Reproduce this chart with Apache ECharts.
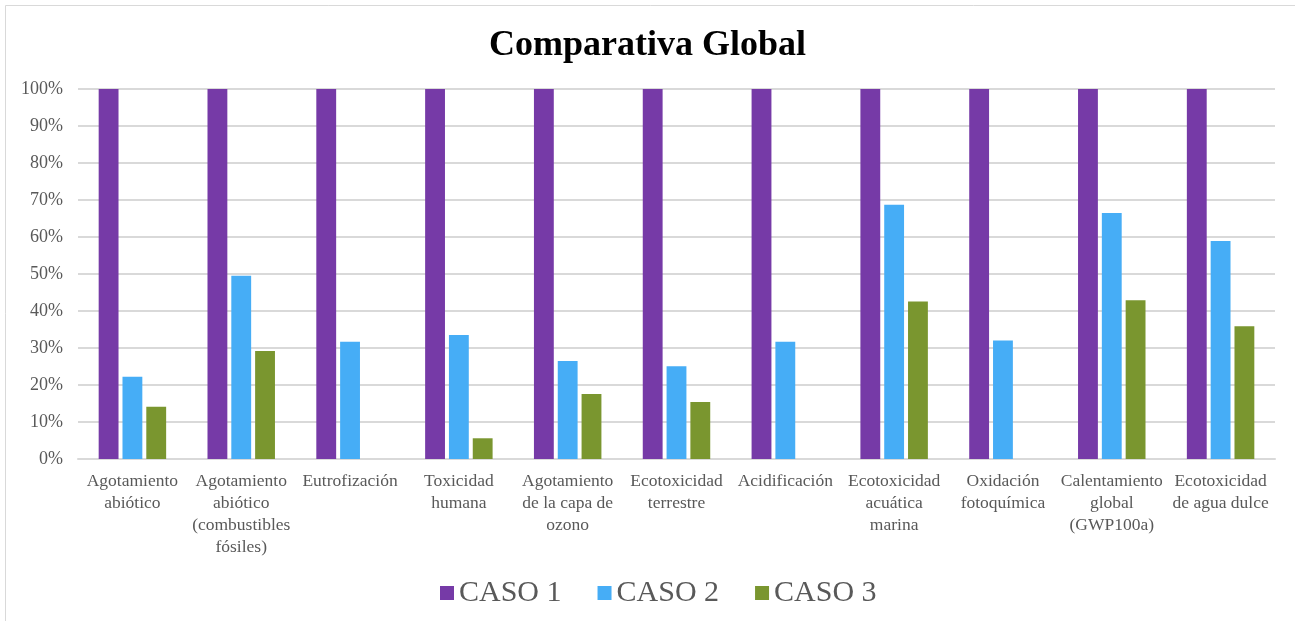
<!DOCTYPE html>
<html>
<head>
<meta charset="utf-8">
<script src="https://cdn.jsdelivr.net/npm/echarts@6/dist/echarts.min.js"></script>
<style>
	html, body { margin: 0; padding: 0; background: #fff; }
	#chart { width: 1295px; height: 621px; }
</style>
</head>
<body>
<div id="chart"></div>
<script>
// categorias del eje x
var categorias = [
	'Agotamiento\nabiótico',
	'Agotamiento\nabiótico\n(combustibles\nfósiles)',
	'Eutrofización',
	'Toxicidad\nhumana',
	'Agotamiento\nde la capa de\nozono',
	'Ecotoxicidad\nterrestre',
	'Acidificación',
	'Ecotoxicidad\nacuática\nmarina',
	'Oxidación\nfotoquímica',
	'Calentamiento\nglobal\n(GWP100a)',
	'Ecotoxicidad\nde agua dulce'
];
// valores en %
var caso1 = [100, 100, 100, 100, 100, 100, 100, 100, 100, 100, 100];
var caso2 = [22.2, 49.5, 31.7, 33.5, 26.5, 25.1, 31.7, 68.7, 32.0, 66.5, 58.9];
var caso3 = [14.1, 29.2, 0, 5.6, 17.6, 15.4, 0, 42.6, 0, 42.9, 35.9];
var ticksY = [0, 10, 20, 30, 40, 50, 60, 70, 80, 90, 100];

var chart = echarts.init(document.getElementById('chart'));
var serif = '"Liberation Serif", "Times New Roman", serif';

var option = {
	backgroundColor: '#fff',
	animation: false,
	title: {
		text: 'Comparativa Global',
		left: 'center',
		top: 23,
		textStyle: {
			fontFamily: serif,
			fontWeight: 'bold',
			fontSize: 36,
			color: '#000'
		}
	},
	legend: {
		data: ['CASO 1', 'CASO 2', 'CASO 3'],
		left: 435,
		top: 573,
		icon: 'rect',
		itemWidth: 14,
		itemHeight: 14,
		itemGap: 36,
		textStyle: {
			fontFamily: serif,
			fontSize: 30,
			color: '#595959'
		}
	},
	grid: {
		left: 78,
		right: 20,
		top: 89,
		bottom: 162,
		containLabel: false
	},
	xAxis: {
		type: 'category',
		data: categorias,
		axisTick: { show: false },
		axisLine: { lineStyle: { color: '#d9d9d9', width: 2 } },
		axisLabel: {
			interval: 0,
			margin: 11,
			fontFamily: serif,
			fontSize: 17.5,
			lineHeight: 22,
			color: '#595959',
			align: 'center',
			verticalAlign: 'top'
		}
	},
	yAxis: {
		type: 'value',
		min: 0,
		max: 100,
		interval: 10,
		axisLine: { show: false },
		axisTick: { show: false },
		splitLine: { lineStyle: { color: '#d9d9d9', width: 2 } },
		axisLabel: {
			margin: 15,
			fontFamily: serif,
			fontSize: 18,
			color: '#595959',
			formatter: function(v) { return ticksY.indexOf(v) >= 0 ? v + '%' : ''; }
		}
	},
	series: [{
		name: 'CASO 1',
		type: 'bar',
		data: caso1,
		barGap: '20%',
		barCategoryGap: '38%',
		itemStyle: { color: '#763AA7' }
	}, {
		name: 'CASO 2',
		type: 'bar',
		data: caso2,
		itemStyle: { color: '#46ADF6' }
	}, {
		name: 'CASO 3',
		type: 'bar',
		data: caso3,
		itemStyle: { color: '#7A962F' }
	}],
	graphic: [{
		type: 'rect',
		shape: { x: 5.5, y: 5.5, width: 1300, height: 630 },
		style: { fill: 'none', stroke: '#d9d9d9', lineWidth: 1 },
		silent: true
	}]
};

chart.setOption(option);
</script>
</body>
</html>
